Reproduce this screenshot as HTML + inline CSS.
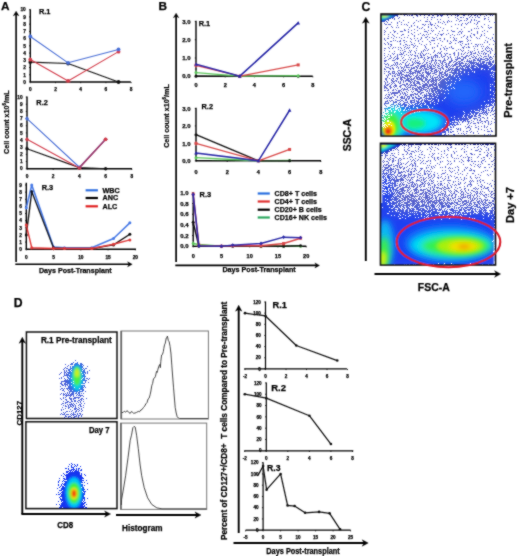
<!DOCTYPE html>
<html><head><meta charset="utf-8"><style>
html,body{margin:0;padding:0;background:#fff;width:520px;height:556px;overflow:hidden}
svg{display:block}
text{font-family:"Liberation Sans", sans-serif; stroke:#000; stroke-width:0.25px; paint-order:stroke}
</style></head><body>
<svg width="520" height="556" viewBox="0 0 520 556" font-family='"Liberation Sans", sans-serif'>
<rect width="520" height="556" fill="#fff"/>
<defs><filter id="gsoft" filterUnits="userSpaceOnUse" x="0" y="0" width="520" height="556"><feConvolveMatrix order="3" kernelMatrix="1 2 1 2 14 2 1 2 1" divisor="26" edgeMode="duplicate"/></filter></defs><g filter="url(#gsoft)">
<text x="1.00" y="9.60" font-size="11.8" font-weight="bold" text-anchor="start" fill="#000" stroke="#000" stroke-width="0.35">A</text>
<line x1="16.10" y1="13.96" x2="16.10" y2="262.00" stroke="#000" stroke-width="1.6" />
<path d="M16.10,11.20 L18.90,15.80 L16.10,14.42 L13.30,15.80 Z" fill="#000" stroke="#000" stroke-width="0.4" stroke-linejoin="round"/>
<line x1="15.30" y1="264.30" x2="129.44" y2="264.30" stroke="#000" stroke-width="1.6" />
<path d="M132.20,264.30 L127.60,266.80 L128.98,264.30 L127.60,261.80 Z" fill="#000" stroke="#000" stroke-width="0.4" stroke-linejoin="round"/>
<text x="9.10" y="122.10" font-size="8.0" font-weight="bold" text-anchor="middle" fill="#000" textLength="63.6" lengthAdjust="spacingAndGlyphs" transform="rotate(-90 9.10 122.10)" >Cell count x10<tspan font-size="5" dy="-2.8">6</tspan><tspan dy="2.8">/mL</tspan></text>
<text x="75.30" y="272.60" font-size="7.2" font-weight="bold" text-anchor="middle" fill="#000" textLength="72.7" lengthAdjust="spacingAndGlyphs" >Days Post-Transplant</text>
<line x1="30.30" y1="9.30" x2="30.30" y2="82.00" stroke="#000" stroke-width="1.4" />
<line x1="30.30" y1="82.00" x2="130.80" y2="82.00" stroke="#000" stroke-width="1.4" />
<line x1="29.10" y1="82.00" x2="30.30" y2="82.00" stroke="#000" stroke-width="0.8" />
<line x1="29.10" y1="74.77" x2="30.30" y2="74.77" stroke="#000" stroke-width="0.8" />
<line x1="29.10" y1="67.54" x2="30.30" y2="67.54" stroke="#000" stroke-width="0.8" />
<line x1="29.10" y1="60.31" x2="30.30" y2="60.31" stroke="#000" stroke-width="0.8" />
<line x1="29.10" y1="53.08" x2="30.30" y2="53.08" stroke="#000" stroke-width="0.8" />
<line x1="29.10" y1="45.85" x2="30.30" y2="45.85" stroke="#000" stroke-width="0.8" />
<line x1="29.10" y1="38.62" x2="30.30" y2="38.62" stroke="#000" stroke-width="0.8" />
<line x1="29.10" y1="31.39" x2="30.30" y2="31.39" stroke="#000" stroke-width="0.8" />
<line x1="29.10" y1="24.16" x2="30.30" y2="24.16" stroke="#000" stroke-width="0.8" />
<line x1="29.10" y1="16.93" x2="30.30" y2="16.93" stroke="#000" stroke-width="0.8" />
<line x1="29.10" y1="9.70" x2="30.30" y2="9.70" stroke="#000" stroke-width="0.8" />
<text x="25.80" y="83.73" font-size="4.8" font-weight="bold" text-anchor="end" fill="#000" >0</text>
<text x="25.80" y="76.50" font-size="4.8" font-weight="bold" text-anchor="end" fill="#000" >1</text>
<text x="25.80" y="69.27" font-size="4.8" font-weight="bold" text-anchor="end" fill="#000" >2</text>
<text x="25.80" y="62.04" font-size="4.8" font-weight="bold" text-anchor="end" fill="#000" >3</text>
<text x="25.80" y="54.81" font-size="4.8" font-weight="bold" text-anchor="end" fill="#000" >4</text>
<text x="25.80" y="47.58" font-size="4.8" font-weight="bold" text-anchor="end" fill="#000" >5</text>
<text x="25.80" y="40.35" font-size="4.8" font-weight="bold" text-anchor="end" fill="#000" >6</text>
<text x="25.80" y="33.12" font-size="4.8" font-weight="bold" text-anchor="end" fill="#000" >7</text>
<text x="25.80" y="25.89" font-size="4.8" font-weight="bold" text-anchor="end" fill="#000" >8</text>
<text x="25.80" y="18.66" font-size="4.8" font-weight="bold" text-anchor="end" fill="#000" >9</text>
<text x="25.80" y="11.43" font-size="4.8" font-weight="bold" text-anchor="end" fill="#000" >10</text>
<line x1="30.30" y1="82.00" x2="30.30" y2="83.20" stroke="#000" stroke-width="0.8" />
<line x1="55.50" y1="82.00" x2="55.50" y2="83.20" stroke="#000" stroke-width="0.8" />
<line x1="80.70" y1="82.00" x2="80.70" y2="83.20" stroke="#000" stroke-width="0.8" />
<line x1="105.90" y1="82.00" x2="105.90" y2="83.20" stroke="#000" stroke-width="0.8" />
<line x1="131.10" y1="82.00" x2="131.10" y2="83.20" stroke="#000" stroke-width="0.8" />
<text x="30.30" y="90.53" font-size="4.8" font-weight="bold" text-anchor="middle" fill="#000" >0</text>
<text x="55.50" y="90.53" font-size="4.8" font-weight="bold" text-anchor="middle" fill="#000" >2</text>
<text x="80.70" y="90.53" font-size="4.8" font-weight="bold" text-anchor="middle" fill="#000" >4</text>
<text x="105.90" y="90.53" font-size="4.8" font-weight="bold" text-anchor="middle" fill="#000" >6</text>
<text x="131.10" y="90.53" font-size="4.8" font-weight="bold" text-anchor="middle" fill="#000" >8</text>
<text x="38.90" y="14.30" font-size="7.4" font-weight="bold" text-anchor="start" fill="#000" >R.1</text>
<polyline points="30.30,62.12 68.10,63.56 118.50,82.00" fill="none" stroke="#111" stroke-width="1.1" stroke-linejoin="round" />
<circle cx="30.30" cy="62.12" r="1.9" fill="#111"/>
<circle cx="68.10" cy="63.56" r="1.9" fill="#111"/>
<circle cx="118.50" cy="82.00" r="1.9" fill="#111"/>
<polyline points="30.30,59.59 68.10,80.92 118.50,51.63" fill="none" stroke="#d23c4a" stroke-width="1.1" stroke-linejoin="round" />
<circle cx="30.30" cy="59.59" r="1.9" fill="#d23c4a"/>
<circle cx="68.10" cy="80.92" r="1.9" fill="#d23c4a"/>
<circle cx="118.50" cy="51.63" r="1.9" fill="#d23c4a"/>
<polyline points="30.30,36.45 68.10,62.84 118.50,49.47" fill="none" stroke="#4a6fd6" stroke-width="1.1" stroke-linejoin="round" />
<circle cx="30.30" cy="36.45" r="1.9" fill="#4a6fd6"/>
<circle cx="68.10" cy="62.84" r="1.9" fill="#4a6fd6"/>
<circle cx="118.50" cy="49.47" r="1.9" fill="#4a6fd6"/>
<line x1="27.00" y1="96.50" x2="27.00" y2="168.70" stroke="#000" stroke-width="1.4" />
<line x1="27.00" y1="168.70" x2="132.00" y2="168.70" stroke="#000" stroke-width="1.4" />
<line x1="25.80" y1="168.70" x2="27.00" y2="168.70" stroke="#000" stroke-width="0.8" />
<line x1="25.80" y1="161.54" x2="27.00" y2="161.54" stroke="#000" stroke-width="0.8" />
<line x1="25.80" y1="154.38" x2="27.00" y2="154.38" stroke="#000" stroke-width="0.8" />
<line x1="25.80" y1="147.22" x2="27.00" y2="147.22" stroke="#000" stroke-width="0.8" />
<line x1="25.80" y1="140.06" x2="27.00" y2="140.06" stroke="#000" stroke-width="0.8" />
<line x1="25.80" y1="132.90" x2="27.00" y2="132.90" stroke="#000" stroke-width="0.8" />
<line x1="25.80" y1="125.74" x2="27.00" y2="125.74" stroke="#000" stroke-width="0.8" />
<line x1="25.80" y1="118.58" x2="27.00" y2="118.58" stroke="#000" stroke-width="0.8" />
<line x1="25.80" y1="111.42" x2="27.00" y2="111.42" stroke="#000" stroke-width="0.8" />
<line x1="25.80" y1="104.26" x2="27.00" y2="104.26" stroke="#000" stroke-width="0.8" />
<line x1="25.80" y1="97.10" x2="27.00" y2="97.10" stroke="#000" stroke-width="0.8" />
<text x="22.60" y="170.43" font-size="4.8" font-weight="bold" text-anchor="end" fill="#000" >0</text>
<text x="22.60" y="163.27" font-size="4.8" font-weight="bold" text-anchor="end" fill="#000" >1</text>
<text x="22.60" y="156.11" font-size="4.8" font-weight="bold" text-anchor="end" fill="#000" >2</text>
<text x="22.60" y="148.95" font-size="4.8" font-weight="bold" text-anchor="end" fill="#000" >3</text>
<text x="22.60" y="141.79" font-size="4.8" font-weight="bold" text-anchor="end" fill="#000" >4</text>
<text x="22.60" y="134.63" font-size="4.8" font-weight="bold" text-anchor="end" fill="#000" >5</text>
<text x="22.60" y="127.47" font-size="4.8" font-weight="bold" text-anchor="end" fill="#000" >6</text>
<text x="22.60" y="120.31" font-size="4.8" font-weight="bold" text-anchor="end" fill="#000" >7</text>
<text x="22.60" y="113.15" font-size="4.8" font-weight="bold" text-anchor="end" fill="#000" >8</text>
<text x="22.60" y="105.99" font-size="4.8" font-weight="bold" text-anchor="end" fill="#000" >9</text>
<text x="22.60" y="98.83" font-size="4.8" font-weight="bold" text-anchor="end" fill="#000" >10</text>
<line x1="27.00" y1="168.70" x2="27.00" y2="169.90" stroke="#000" stroke-width="0.8" />
<line x1="53.20" y1="168.70" x2="53.20" y2="169.90" stroke="#000" stroke-width="0.8" />
<line x1="79.40" y1="168.70" x2="79.40" y2="169.90" stroke="#000" stroke-width="0.8" />
<line x1="105.60" y1="168.70" x2="105.60" y2="169.90" stroke="#000" stroke-width="0.8" />
<line x1="131.80" y1="168.70" x2="131.80" y2="169.90" stroke="#000" stroke-width="0.8" />
<text x="27.00" y="178.13" font-size="4.8" font-weight="bold" text-anchor="middle" fill="#000" >0</text>
<text x="53.20" y="178.13" font-size="4.8" font-weight="bold" text-anchor="middle" fill="#000" >2</text>
<text x="79.40" y="178.13" font-size="4.8" font-weight="bold" text-anchor="middle" fill="#000" >4</text>
<text x="105.60" y="178.13" font-size="4.8" font-weight="bold" text-anchor="middle" fill="#000" >6</text>
<text x="131.80" y="178.13" font-size="4.8" font-weight="bold" text-anchor="middle" fill="#000" >8</text>
<text x="36.30" y="105.20" font-size="7.4" font-weight="bold" text-anchor="start" fill="#000" >R.2</text>
<polyline points="27.00,148.65 79.40,167.63 105.60,168.70" fill="none" stroke="#111" stroke-width="1.1" stroke-linejoin="round" />
<circle cx="27.00" cy="148.65" r="1.7" fill="#111"/>
<circle cx="79.40" cy="167.63" r="1.7" fill="#111"/>
<circle cx="105.60" cy="168.70" r="1.7" fill="#111"/>
<polyline points="27.00,118.58 79.40,167.27 105.60,139.34" fill="none" stroke="#4a6fd6" stroke-width="1.1" stroke-linejoin="round" />
<circle cx="27.00" cy="118.58" r="1.7" fill="#4a6fd6"/>
<circle cx="79.40" cy="167.27" r="1.7" fill="#4a6fd6"/>
<circle cx="105.60" cy="139.34" r="1.7" fill="#4a6fd6"/>
<polyline points="27.00,139.34 79.40,167.98 105.60,139.34" fill="none" stroke="#d23c4a" stroke-width="1.1" stroke-linejoin="round" />
<circle cx="27.00" cy="139.34" r="1.7" fill="#d23c4a"/>
<circle cx="79.40" cy="167.98" r="1.7" fill="#d23c4a"/>
<circle cx="105.60" cy="139.34" r="1.7" fill="#d23c4a"/>
<polyline points="79.40,167.63 105.60,139.34" fill="none" stroke="#9a3c70" stroke-width="1.5" stroke-linejoin="round" />
<circle cx="105.60" cy="139.34" r="1.8" fill="#d23c4a"/>
<line x1="26.30" y1="182.80" x2="26.30" y2="249.20" stroke="#000" stroke-width="1.4" />
<line x1="26.30" y1="249.20" x2="136.00" y2="249.20" stroke="#000" stroke-width="1.4" />
<line x1="25.10" y1="249.20" x2="26.30" y2="249.20" stroke="#000" stroke-width="0.8" />
<line x1="25.10" y1="242.07" x2="26.30" y2="242.07" stroke="#000" stroke-width="0.8" />
<line x1="25.10" y1="234.93" x2="26.30" y2="234.93" stroke="#000" stroke-width="0.8" />
<line x1="25.10" y1="227.80" x2="26.30" y2="227.80" stroke="#000" stroke-width="0.8" />
<line x1="25.10" y1="220.67" x2="26.30" y2="220.67" stroke="#000" stroke-width="0.8" />
<line x1="25.10" y1="213.53" x2="26.30" y2="213.53" stroke="#000" stroke-width="0.8" />
<line x1="25.10" y1="206.40" x2="26.30" y2="206.40" stroke="#000" stroke-width="0.8" />
<line x1="25.10" y1="199.27" x2="26.30" y2="199.27" stroke="#000" stroke-width="0.8" />
<line x1="25.10" y1="192.13" x2="26.30" y2="192.13" stroke="#000" stroke-width="0.8" />
<line x1="25.10" y1="185.00" x2="26.30" y2="185.00" stroke="#000" stroke-width="0.8" />
<text x="22.00" y="250.93" font-size="4.8" font-weight="bold" text-anchor="end" fill="#000" >0</text>
<text x="22.00" y="243.79" font-size="4.8" font-weight="bold" text-anchor="end" fill="#000" >1</text>
<text x="22.00" y="236.66" font-size="4.8" font-weight="bold" text-anchor="end" fill="#000" >2</text>
<text x="22.00" y="229.53" font-size="4.8" font-weight="bold" text-anchor="end" fill="#000" >3</text>
<text x="22.00" y="222.39" font-size="4.8" font-weight="bold" text-anchor="end" fill="#000" >4</text>
<text x="22.00" y="215.26" font-size="4.8" font-weight="bold" text-anchor="end" fill="#000" >5</text>
<text x="22.00" y="208.13" font-size="4.8" font-weight="bold" text-anchor="end" fill="#000" >6</text>
<text x="22.00" y="200.99" font-size="4.8" font-weight="bold" text-anchor="end" fill="#000" >7</text>
<text x="22.00" y="193.86" font-size="4.8" font-weight="bold" text-anchor="end" fill="#000" >8</text>
<text x="22.00" y="186.73" font-size="4.8" font-weight="bold" text-anchor="end" fill="#000" >9</text>
<line x1="26.30" y1="249.20" x2="26.30" y2="250.40" stroke="#000" stroke-width="0.8" />
<line x1="53.55" y1="249.20" x2="53.55" y2="250.40" stroke="#000" stroke-width="0.8" />
<line x1="80.80" y1="249.20" x2="80.80" y2="250.40" stroke="#000" stroke-width="0.8" />
<line x1="108.05" y1="249.20" x2="108.05" y2="250.40" stroke="#000" stroke-width="0.8" />
<line x1="135.30" y1="249.20" x2="135.30" y2="250.40" stroke="#000" stroke-width="0.8" />
<text x="26.30" y="258.53" font-size="4.8" font-weight="bold" text-anchor="middle" fill="#000" >0</text>
<text x="53.55" y="258.53" font-size="4.8" font-weight="bold" text-anchor="middle" fill="#000" >5</text>
<text x="80.80" y="258.53" font-size="4.8" font-weight="bold" text-anchor="middle" fill="#000" >10</text>
<text x="108.05" y="258.53" font-size="4.8" font-weight="bold" text-anchor="middle" fill="#000" >15</text>
<text x="135.30" y="258.53" font-size="4.8" font-weight="bold" text-anchor="middle" fill="#000" >20</text>
<text x="41.70" y="189.70" font-size="7.4" font-weight="bold" text-anchor="start" fill="#000" >R.3</text>
<polyline points="26.30,207.83 31.75,185.00 53.55,247.06 64.45,247.77 91.70,247.77 113.50,238.50 129.85,222.81" fill="none" stroke="#4a7be6" stroke-width="1.6" stroke-linejoin="round" />
<circle cx="26.30" cy="207.83" r="1.5" fill="#4a7be6"/>
<circle cx="31.75" cy="185.00" r="1.5" fill="#4a7be6"/>
<circle cx="53.55" cy="247.06" r="1.5" fill="#4a7be6"/>
<circle cx="64.45" cy="247.77" r="1.5" fill="#4a7be6"/>
<circle cx="91.70" cy="247.77" r="1.5" fill="#4a7be6"/>
<circle cx="113.50" cy="238.50" r="1.5" fill="#4a7be6"/>
<circle cx="129.85" cy="222.81" r="1.5" fill="#4a7be6"/>
<polyline points="26.30,234.93 31.75,191.42 53.55,247.77 64.45,248.49 91.70,248.49 113.50,244.92 129.85,234.22" fill="none" stroke="#111" stroke-width="1.4" stroke-linejoin="round" />
<circle cx="26.30" cy="234.93" r="1.5" fill="#111"/>
<circle cx="31.75" cy="191.42" r="1.5" fill="#111"/>
<circle cx="53.55" cy="247.77" r="1.5" fill="#111"/>
<circle cx="64.45" cy="248.49" r="1.5" fill="#111"/>
<circle cx="91.70" cy="248.49" r="1.5" fill="#111"/>
<circle cx="113.50" cy="244.92" r="1.5" fill="#111"/>
<circle cx="129.85" cy="234.22" r="1.5" fill="#111"/>
<polyline points="26.30,224.95 31.75,247.77 53.55,248.49 64.45,248.49 91.70,248.49 113.50,244.21 129.85,239.93" fill="none" stroke="#e03a3a" stroke-width="1.4" stroke-linejoin="round" />
<circle cx="26.30" cy="224.95" r="1.5" fill="#e03a3a"/>
<circle cx="31.75" cy="247.77" r="1.5" fill="#e03a3a"/>
<circle cx="53.55" cy="248.49" r="1.5" fill="#e03a3a"/>
<circle cx="64.45" cy="248.49" r="1.5" fill="#e03a3a"/>
<circle cx="91.70" cy="248.49" r="1.5" fill="#e03a3a"/>
<circle cx="113.50" cy="244.21" r="1.5" fill="#e03a3a"/>
<circle cx="129.85" cy="239.93" r="1.5" fill="#e03a3a"/>
<line x1="85.60" y1="190.30" x2="97.90" y2="190.30" stroke="#2f6fe0" stroke-width="2.2" />
<text x="102.50" y="192.60" font-size="7.2" font-weight="bold" text-anchor="start" fill="#000" >WBC</text>
<line x1="85.60" y1="198.00" x2="97.90" y2="198.00" stroke="#000" stroke-width="2.2" />
<text x="102.50" y="200.30" font-size="7.2" font-weight="bold" text-anchor="start" fill="#000" >ANC</text>
<line x1="85.60" y1="206.30" x2="97.90" y2="206.30" stroke="#e02020" stroke-width="2.2" />
<text x="102.50" y="208.60" font-size="7.2" font-weight="bold" text-anchor="start" fill="#000" >ALC</text>
<text x="158.60" y="9.60" font-size="11.8" font-weight="bold" text-anchor="start" fill="#000" stroke="#000" stroke-width="0.35">B</text>
<line x1="176.10" y1="15.90" x2="176.10" y2="262.00" stroke="#000" stroke-width="1.7" />
<path d="M176.10,13.20 L178.80,17.70 L176.10,16.35 L173.40,17.70 Z" fill="#000" stroke="#000" stroke-width="0.4" stroke-linejoin="round"/>
<line x1="175.30" y1="265.40" x2="316.74" y2="265.40" stroke="#000" stroke-width="1.7" />
<path d="M319.50,265.40 L314.90,267.90 L316.28,265.40 L314.90,262.90 Z" fill="#000" stroke="#000" stroke-width="0.4" stroke-linejoin="round"/>
<text x="168.90" y="116.00" font-size="8.0" font-weight="bold" text-anchor="middle" fill="#000" textLength="63.6" lengthAdjust="spacingAndGlyphs" transform="rotate(-90 168.90 116.00)" >Cell count x10<tspan font-size="5" dy="-2.8">6</tspan><tspan dy="2.8">/mL</tspan></text>
<text x="259.10" y="272.30" font-size="7.2" font-weight="bold" text-anchor="middle" fill="#000" textLength="73.3" lengthAdjust="spacingAndGlyphs" >Days Post-Transplant</text>
<line x1="196.00" y1="20.80" x2="196.00" y2="76.20" stroke="#000" stroke-width="1.4" />
<line x1="196.00" y1="76.20" x2="312.70" y2="76.20" stroke="#000" stroke-width="1.4" />
<line x1="194.80" y1="76.20" x2="196.00" y2="76.20" stroke="#000" stroke-width="0.8" />
<line x1="194.80" y1="57.97" x2="196.00" y2="57.97" stroke="#000" stroke-width="0.8" />
<line x1="194.80" y1="39.73" x2="196.00" y2="39.73" stroke="#000" stroke-width="0.8" />
<line x1="194.80" y1="21.50" x2="196.00" y2="21.50" stroke="#000" stroke-width="0.8" />
<text x="190.50" y="78.36" font-size="6.0" font-weight="bold" text-anchor="end" fill="#000" >0.0</text>
<text x="190.50" y="60.13" font-size="6.0" font-weight="bold" text-anchor="end" fill="#000" >1.0</text>
<text x="190.50" y="41.89" font-size="6.0" font-weight="bold" text-anchor="end" fill="#000" >2.0</text>
<text x="190.50" y="23.66" font-size="6.0" font-weight="bold" text-anchor="end" fill="#000" >3.0</text>
<line x1="196.00" y1="76.20" x2="196.00" y2="77.40" stroke="#000" stroke-width="0.8" />
<line x1="225.20" y1="76.20" x2="225.20" y2="77.40" stroke="#000" stroke-width="0.8" />
<line x1="254.40" y1="76.20" x2="254.40" y2="77.40" stroke="#000" stroke-width="0.8" />
<line x1="283.60" y1="76.20" x2="283.60" y2="77.40" stroke="#000" stroke-width="0.8" />
<line x1="312.80" y1="76.20" x2="312.80" y2="77.40" stroke="#000" stroke-width="0.8" />
<text x="196.00" y="87.32" font-size="5.6" font-weight="bold" text-anchor="middle" fill="#000" >0</text>
<text x="225.20" y="87.32" font-size="5.6" font-weight="bold" text-anchor="middle" fill="#000" >2</text>
<text x="254.40" y="87.32" font-size="5.6" font-weight="bold" text-anchor="middle" fill="#000" >4</text>
<text x="283.60" y="87.32" font-size="5.6" font-weight="bold" text-anchor="middle" fill="#000" >6</text>
<text x="312.80" y="87.32" font-size="5.6" font-weight="bold" text-anchor="middle" fill="#000" >8</text>
<text x="198.70" y="26.40" font-size="7.4" font-weight="bold" text-anchor="start" fill="#000" >R.1</text>
<polyline points="196.00,76.20 239.80,76.20 298.20,76.20" fill="none" stroke="#111" stroke-width="1.3" stroke-linejoin="round" />
<circle cx="196.00" cy="76.20" r="1.5" fill="#111"/>
<circle cx="239.80" cy="76.20" r="1.5" fill="#111"/>
<circle cx="298.20" cy="76.20" r="1.5" fill="#111"/>
<polyline points="196.00,72.55 239.80,76.20 298.20,75.65" fill="none" stroke="#5cc65c" stroke-width="1.3" stroke-linejoin="round" />
<circle cx="196.00" cy="72.55" r="1.5" fill="#5cc65c"/>
<circle cx="239.80" cy="76.20" r="1.5" fill="#5cc65c"/>
<circle cx="298.20" cy="75.65" r="1.5" fill="#5cc65c"/>
<polyline points="196.00,65.26 239.80,76.20 298.20,64.90" fill="none" stroke="#d84848" stroke-width="1.3" stroke-linejoin="round" />
<rect x="194.50" y="63.76" width="3.0" height="3.0" fill="#d84848"/>
<rect x="238.30" y="74.70" width="3.0" height="3.0" fill="#d84848"/>
<rect x="296.70" y="63.40" width="3.0" height="3.0" fill="#d84848"/>
<polyline points="196.00,64.35 239.80,76.20 298.20,22.96" fill="none" stroke="#2626a6" stroke-width="1.6" stroke-linejoin="round" />
<path d="M196.00,62.40 L197.80,65.85 L194.20,65.85Z" fill="#2626a6"/>
<path d="M239.80,74.25 L241.60,77.70 L238.00,77.70Z" fill="#2626a6"/>
<path d="M298.20,21.01 L300.00,24.46 L296.40,24.46Z" fill="#2626a6"/>
<line x1="196.00" y1="107.80" x2="196.00" y2="160.80" stroke="#000" stroke-width="1.4" />
<line x1="196.00" y1="160.80" x2="321.00" y2="160.80" stroke="#000" stroke-width="1.4" />
<line x1="194.80" y1="160.80" x2="196.00" y2="160.80" stroke="#000" stroke-width="0.8" />
<line x1="194.80" y1="143.37" x2="196.00" y2="143.37" stroke="#000" stroke-width="0.8" />
<line x1="194.80" y1="125.93" x2="196.00" y2="125.93" stroke="#000" stroke-width="0.8" />
<line x1="194.80" y1="108.50" x2="196.00" y2="108.50" stroke="#000" stroke-width="0.8" />
<text x="190.50" y="162.96" font-size="6.0" font-weight="bold" text-anchor="end" fill="#000" >0.0</text>
<text x="190.50" y="145.53" font-size="6.0" font-weight="bold" text-anchor="end" fill="#000" >1.0</text>
<text x="190.50" y="128.09" font-size="6.0" font-weight="bold" text-anchor="end" fill="#000" >2.0</text>
<text x="190.50" y="110.66" font-size="6.0" font-weight="bold" text-anchor="end" fill="#000" >3.0</text>
<line x1="196.00" y1="160.80" x2="196.00" y2="162.00" stroke="#000" stroke-width="0.8" />
<line x1="227.20" y1="160.80" x2="227.20" y2="162.00" stroke="#000" stroke-width="0.8" />
<line x1="258.40" y1="160.80" x2="258.40" y2="162.00" stroke="#000" stroke-width="0.8" />
<line x1="289.60" y1="160.80" x2="289.60" y2="162.00" stroke="#000" stroke-width="0.8" />
<line x1="320.80" y1="160.80" x2="320.80" y2="162.00" stroke="#000" stroke-width="0.8" />
<text x="196.00" y="173.52" font-size="5.6" font-weight="bold" text-anchor="middle" fill="#000" >0</text>
<text x="227.20" y="173.52" font-size="5.6" font-weight="bold" text-anchor="middle" fill="#000" >2</text>
<text x="258.40" y="173.52" font-size="5.6" font-weight="bold" text-anchor="middle" fill="#000" >4</text>
<text x="289.60" y="173.52" font-size="5.6" font-weight="bold" text-anchor="middle" fill="#000" >6</text>
<text x="320.80" y="173.52" font-size="5.6" font-weight="bold" text-anchor="middle" fill="#000" >8</text>
<text x="201.50" y="108.80" font-size="7.4" font-weight="bold" text-anchor="start" fill="#000" >R.2</text>
<polyline points="196.00,157.66 258.40,160.80 289.60,160.45" fill="none" stroke="#5cc65c" stroke-width="1.3" stroke-linejoin="round" />
<circle cx="196.00" cy="157.66" r="1.5" fill="#5cc65c"/>
<circle cx="258.40" cy="160.80" r="1.5" fill="#5cc65c"/>
<circle cx="289.60" cy="160.45" r="1.5" fill="#5cc65c"/>
<polyline points="196.00,134.65 258.40,160.80 289.60,160.80" fill="none" stroke="#111" stroke-width="1.3" stroke-linejoin="round" />
<circle cx="196.00" cy="134.65" r="1.5" fill="#111"/>
<circle cx="258.40" cy="160.80" r="1.5" fill="#111"/>
<circle cx="289.60" cy="160.80" r="1.5" fill="#111"/>
<polyline points="196.00,143.37 258.40,160.80 289.60,149.47" fill="none" stroke="#d84848" stroke-width="1.3" stroke-linejoin="round" />
<rect x="194.50" y="141.87" width="3.0" height="3.0" fill="#d84848"/>
<rect x="256.90" y="159.30" width="3.0" height="3.0" fill="#d84848"/>
<rect x="288.10" y="147.97" width="3.0" height="3.0" fill="#d84848"/>
<polyline points="196.00,152.96 258.40,160.80 289.60,110.24" fill="none" stroke="#2626a6" stroke-width="1.5" stroke-linejoin="round" />
<path d="M196.00,151.01 L197.80,154.46 L194.20,154.46Z" fill="#2626a6"/>
<path d="M258.40,158.85 L260.20,162.30 L256.60,162.30Z" fill="#2626a6"/>
<path d="M289.60,108.29 L291.40,111.74 L287.80,111.74Z" fill="#2626a6"/>
<line x1="193.20" y1="192.20" x2="193.20" y2="246.20" stroke="#000" stroke-width="1.4" />
<line x1="193.20" y1="246.20" x2="306.30" y2="246.20" stroke="#000" stroke-width="1.4" />
<line x1="192.00" y1="246.20" x2="193.20" y2="246.20" stroke="#000" stroke-width="0.8" />
<line x1="192.00" y1="235.54" x2="193.20" y2="235.54" stroke="#000" stroke-width="0.8" />
<line x1="192.00" y1="224.88" x2="193.20" y2="224.88" stroke="#000" stroke-width="0.8" />
<line x1="192.00" y1="214.22" x2="193.20" y2="214.22" stroke="#000" stroke-width="0.8" />
<line x1="192.00" y1="203.56" x2="193.20" y2="203.56" stroke="#000" stroke-width="0.8" />
<line x1="192.00" y1="192.90" x2="193.20" y2="192.90" stroke="#000" stroke-width="0.8" />
<text x="188.50" y="248.36" font-size="6.0" font-weight="bold" text-anchor="end" fill="#000" >0.0</text>
<text x="188.50" y="237.70" font-size="6.0" font-weight="bold" text-anchor="end" fill="#000" >0.2</text>
<text x="188.50" y="227.04" font-size="6.0" font-weight="bold" text-anchor="end" fill="#000" >0.4</text>
<text x="188.50" y="216.38" font-size="6.0" font-weight="bold" text-anchor="end" fill="#000" >0.6</text>
<text x="188.50" y="205.72" font-size="6.0" font-weight="bold" text-anchor="end" fill="#000" >0.8</text>
<text x="188.50" y="195.06" font-size="6.0" font-weight="bold" text-anchor="end" fill="#000" >1.0</text>
<line x1="193.20" y1="246.20" x2="193.20" y2="247.40" stroke="#000" stroke-width="0.8" />
<line x1="221.45" y1="246.20" x2="221.45" y2="247.40" stroke="#000" stroke-width="0.8" />
<line x1="249.70" y1="246.20" x2="249.70" y2="247.40" stroke="#000" stroke-width="0.8" />
<line x1="277.95" y1="246.20" x2="277.95" y2="247.40" stroke="#000" stroke-width="0.8" />
<line x1="306.20" y1="246.20" x2="306.20" y2="247.40" stroke="#000" stroke-width="0.8" />
<text x="193.20" y="258.02" font-size="5.6" font-weight="bold" text-anchor="middle" fill="#000" >0</text>
<text x="221.45" y="258.02" font-size="5.6" font-weight="bold" text-anchor="middle" fill="#000" >5</text>
<text x="249.70" y="258.02" font-size="5.6" font-weight="bold" text-anchor="middle" fill="#000" >10</text>
<text x="277.95" y="258.02" font-size="5.6" font-weight="bold" text-anchor="middle" fill="#000" >15</text>
<text x="306.20" y="258.02" font-size="5.6" font-weight="bold" text-anchor="middle" fill="#000" >20</text>
<text x="199.60" y="196.80" font-size="7.4" font-weight="bold" text-anchor="start" fill="#000" >R.3</text>
<polyline points="193.20,243.53 198.85,244.60 221.45,246.20 232.75,245.67 261.00,246.20 283.60,246.20 300.55,246.20" fill="none" stroke="#5cc65c" stroke-width="1.5" stroke-linejoin="round" />
<circle cx="193.20" cy="243.53" r="1.5" fill="#5cc65c"/>
<circle cx="198.85" cy="244.60" r="1.5" fill="#5cc65c"/>
<circle cx="221.45" cy="246.20" r="1.5" fill="#5cc65c"/>
<circle cx="232.75" cy="245.67" r="1.5" fill="#5cc65c"/>
<circle cx="261.00" cy="246.20" r="1.5" fill="#5cc65c"/>
<circle cx="283.60" cy="246.20" r="1.5" fill="#5cc65c"/>
<circle cx="300.55" cy="246.20" r="1.5" fill="#5cc65c"/>
<polyline points="193.20,222.22 198.85,246.20 221.45,246.20 232.75,246.20 261.00,246.20 283.60,246.20 300.55,245.67" fill="none" stroke="#111" stroke-width="1.5" stroke-linejoin="round" />
<circle cx="193.20" cy="222.22" r="1.5" fill="#111"/>
<circle cx="198.85" cy="246.20" r="1.5" fill="#111"/>
<circle cx="221.45" cy="246.20" r="1.5" fill="#111"/>
<circle cx="232.75" cy="246.20" r="1.5" fill="#111"/>
<circle cx="261.00" cy="246.20" r="1.5" fill="#111"/>
<circle cx="283.60" cy="246.20" r="1.5" fill="#111"/>
<circle cx="300.55" cy="245.67" r="1.5" fill="#111"/>
<polyline points="193.20,193.97 198.85,245.13 221.45,246.20 232.75,245.67 261.00,245.67 283.60,243.53 300.55,238.20" fill="none" stroke="#d84848" stroke-width="1.5" stroke-linejoin="round" />
<rect x="191.70" y="192.47" width="3.0" height="3.0" fill="#d84848"/>
<rect x="197.35" y="243.63" width="3.0" height="3.0" fill="#d84848"/>
<rect x="219.95" y="244.70" width="3.0" height="3.0" fill="#d84848"/>
<rect x="231.25" y="244.17" width="3.0" height="3.0" fill="#d84848"/>
<rect x="259.50" y="244.17" width="3.0" height="3.0" fill="#d84848"/>
<rect x="282.10" y="242.03" width="3.0" height="3.0" fill="#d84848"/>
<rect x="299.05" y="236.70" width="3.0" height="3.0" fill="#d84848"/>
<polyline points="193.20,194.50 198.85,245.67 221.45,246.20 232.75,245.13 261.00,243.53 283.60,237.14 300.55,237.67" fill="none" stroke="#2626a6" stroke-width="1.5" stroke-linejoin="round" />
<path d="M193.20,192.55 L195.00,194.50 L193.20,196.45 L191.40,194.50Z" fill="#2626a6"/>
<path d="M198.85,243.72 L200.65,245.67 L198.85,247.62 L197.05,245.67Z" fill="#2626a6"/>
<path d="M221.45,244.25 L223.25,246.20 L221.45,248.15 L219.65,246.20Z" fill="#2626a6"/>
<path d="M232.75,243.18 L234.55,245.13 L232.75,247.08 L230.95,245.13Z" fill="#2626a6"/>
<path d="M261.00,241.59 L262.80,243.53 L261.00,245.48 L259.20,243.53Z" fill="#2626a6"/>
<path d="M283.60,235.19 L285.40,237.14 L283.60,239.09 L281.80,237.14Z" fill="#2626a6"/>
<path d="M300.55,235.72 L302.35,237.67 L300.55,239.62 L298.75,237.67Z" fill="#2626a6"/>
<line x1="257.70" y1="193.50" x2="269.80" y2="193.50" stroke="#2a6ee0" stroke-width="2.2" />
<text x="274.60" y="195.90" font-size="7.1" font-weight="bold" text-anchor="start" fill="#000" >CD8+ T cells</text>
<line x1="257.70" y1="201.50" x2="269.80" y2="201.50" stroke="#e03030" stroke-width="2.2" />
<text x="274.60" y="203.90" font-size="7.1" font-weight="bold" text-anchor="start" fill="#000" >CD4+ T cells</text>
<line x1="257.70" y1="209.70" x2="269.80" y2="209.70" stroke="#000" stroke-width="2.2" />
<text x="274.60" y="212.10" font-size="7.1" font-weight="bold" text-anchor="start" fill="#000" >CD20+ B cells</text>
<line x1="257.70" y1="217.50" x2="269.80" y2="217.50" stroke="#2ea860" stroke-width="2.2" />
<text x="274.60" y="219.90" font-size="7.1" font-weight="bold" text-anchor="start" fill="#000" >CD16+ NK cells</text>
<text x="361.40" y="10.60" font-size="12.2" font-weight="bold" text-anchor="start" fill="#000" stroke="#000" stroke-width="0.35">C</text>
<line x1="365.80" y1="20.80" x2="365.80" y2="261.00" stroke="#000" stroke-width="1.9" />
<path d="M365.80,17.20 L369.20,23.20 L365.80,21.40 L362.40,23.20 Z" fill="#000" stroke="#000" stroke-width="0.4" stroke-linejoin="round"/>
<line x1="374.50" y1="274.00" x2="497.00" y2="274.00" stroke="#000" stroke-width="1.9" />
<path d="M500.60,274.00 L494.60,277.30 L496.40,274.00 L494.60,270.70 Z" fill="#000" stroke="#000" stroke-width="0.4" stroke-linejoin="round"/>
<text x="351.50" y="135.10" font-size="10.4" font-weight="bold" text-anchor="middle" fill="#000" textLength="32.4" lengthAdjust="spacingAndGlyphs" transform="rotate(-90 351.50 135.10)" >SSC-A</text>
<text x="433.80" y="290.90" font-size="10.4" font-weight="bold" text-anchor="middle" fill="#000" textLength="31.9" lengthAdjust="spacingAndGlyphs" >FSC-A</text>
<text x="512.40" y="80.30" font-size="10.6" font-weight="bold" text-anchor="middle" fill="#000" textLength="74.7" lengthAdjust="spacingAndGlyphs" transform="rotate(-90 512.40 80.30)" >Pre-transplant</text>
<text x="513.90" y="205.00" font-size="10.6" font-weight="bold" text-anchor="middle" fill="#000" textLength="36" lengthAdjust="spacingAndGlyphs" transform="rotate(-90 513.90 205.00)" >Day +7</text>
<defs><filter id="b1" x="-50%" y="-50%" width="200%" height="200%"><feGaussianBlur stdDeviation="1"/></filter><filter id="b2" x="-50%" y="-50%" width="200%" height="200%"><feGaussianBlur stdDeviation="2"/></filter><filter id="b3" x="-50%" y="-50%" width="200%" height="200%"><feGaussianBlur stdDeviation="3"/></filter><filter id="b4" x="-50%" y="-50%" width="200%" height="200%"><feGaussianBlur stdDeviation="4"/></filter><filter id="b6" x="-50%" y="-50%" width="200%" height="200%"><feGaussianBlur stdDeviation="6"/></filter><filter id="b8" x="-50%" y="-50%" width="200%" height="200%"><feGaussianBlur stdDeviation="8"/></filter><filter id="b12" x="-50%" y="-50%" width="200%" height="200%"><feGaussianBlur stdDeviation="12"/></filter><filter id="thr1" x="0" y="0" width="520" height="556" filterUnits="userSpaceOnUse" color-interpolation-filters="sRGB">
<feTurbulence type="fractalNoise" baseFrequency="1.3" numOctaves="1" seed="3" result="n"/>
<feColorMatrix in="n" type="matrix" values="0 0 0 0 0  0 0 0 0 0  0 0 0 0 0  3.2 0 0 0 -1.1" result="na0"/>
<feComponentTransfer in="na0" result="na"><feFuncA type="linear" slope="0.94" intercept="0.03"/></feComponentTransfer>
<feComposite in="SourceAlpha" in2="na" operator="arithmetic" k1="0" k2="1" k3="1" k4="-1" result="sum"/>
<feComponentTransfer in="sum" result="m"><feFuncA type="linear" slope="255" intercept="0"/></feComponentTransfer>
<feFlood flood-color="#fff" result="w"/>
<feComposite in="w" in2="m" operator="in"/>
</filter><filter id="thr2" x="0" y="0" width="520" height="556" filterUnits="userSpaceOnUse" color-interpolation-filters="sRGB">
<feTurbulence type="fractalNoise" baseFrequency="1.3" numOctaves="1" seed="11" result="n"/>
<feColorMatrix in="n" type="matrix" values="0 0 0 0 0  0 0 0 0 0  0 0 0 0 0  3.2 0 0 0 -1.1" result="na0"/>
<feComponentTransfer in="na0" result="na"><feFuncA type="linear" slope="0.94" intercept="0.03"/></feComponentTransfer>
<feComposite in="SourceAlpha" in2="na" operator="arithmetic" k1="0" k2="1" k3="1" k4="-1" result="sum"/>
<feComponentTransfer in="sum" result="m"><feFuncA type="linear" slope="255" intercept="0"/></feComponentTransfer>
<feFlood flood-color="#fff" result="w"/>
<feComposite in="w" in2="m" operator="in"/>
</filter><filter id="soft" filterUnits="userSpaceOnUse" x="0" y="0" width="520" height="556"><feOffset dx="0" dy="0"/></filter>
<clipPath id="cc1"><rect x="381" y="14" width="115" height="122"/></clipPath>
<clipPath id="cc2"><rect x="380.5" y="143.3" width="115" height="121.7"/></clipPath>
<clipPath id="cd1"><rect x="26.4" y="332" width="90.6" height="86.5"/></clipPath>
<clipPath id="cd2"><rect x="25.9" y="421.8" width="91.1" height="86.8"/></clipPath>
<mask id="mc1" maskUnits="userSpaceOnUse" x="381" y="14" width="115" height="122">
<g filter="url(#thr1)">
<rect x="381" y="14" width="115" height="122" fill="#fff" fill-opacity="0.1"/>
<g filter="url(#b12)"><path d="M381,52 L420,46 L445,60 L425,105 L381,112 Z" fill="#fff" fill-opacity="0.22"/></g>
<g filter="url(#b8)"><path d="M381,66 L420,58 L445,85 L381,110 Z" fill="#fff" fill-opacity="0.25"/></g>
<g filter="url(#b12)"><ellipse cx="462" cy="88" rx="45" ry="34" fill="#fff" fill-opacity="0.45" transform="rotate(-20 462 88)"/></g>
<g filter="url(#b6)"><ellipse cx="464" cy="90" rx="30" ry="24" fill="#fff" fill-opacity="0.6" transform="rotate(-25 464 90)"/></g>
<g filter="url(#b4)"><path d="M386,112 L410,106 L430,102 L448,92 L460,74 L480,66 L496,66 L496,102 L470,114 L450,125 L440,137 L384,137 Z" fill="#fff"/></g>
<g filter="url(#b4)"><path d="M386,104 L425,98 L445,84 L470,66 L496,58 L496,80 L440,104 Z" fill="#fff" fill-opacity="0.35"/></g>
<rect x="381" y="128" width="60" height="9" fill="#fff"/>
<path d="M381,14 L400,14 L388,20 L381,22.5 Z" fill="#fff"/>
<rect x="381" y="14" width="115" height="1.5" fill="#fff" fill-opacity="0.7"/>
</g>
<rect x="381" y="22" width="3" height="84" fill="#000"/>
</mask><mask id="mc2" maskUnits="userSpaceOnUse" x="380.5" y="143.3" width="115" height="121.7">
<g filter="url(#thr2)">
<rect x="380.5" y="143.3" width="115" height="121.7" fill="#fff" fill-opacity="0.1"/>
<g filter="url(#b12)"><path d="M380,150 L415,158 L440,215 L380,215 Z" fill="#fff" fill-opacity="0.3"/></g>
<g filter="url(#b12)"><path d="M380,182 L496,186 L496,215 L380,215 Z" fill="#fff" fill-opacity="0.3"/></g>
<g filter="url(#b6)"><path d="M380,198 L496,200 L496,216 L380,216 Z" fill="#fff" fill-opacity="0.4"/></g>
<g filter="url(#b6)"><rect x="372" y="165" width="26" height="105" fill="#fff" fill-opacity="0.4"/></g>
<g filter="url(#b4)"><rect x="376" y="198" width="15" height="72" fill="#fff"/></g>
<g filter="url(#b3)"><rect x="378" y="214" width="120" height="55" fill="#fff"/></g>
<g filter="url(#b1)"><path d="M380.5,143.3 L405,143.3 L392,150 L380.5,155.5 Z" fill="#fff"/></g>
<path d="M380.5,143.3 L403,143.3 L391,149.5 L380.5,154.5 Z" fill="#fff"/>
<rect x="380.5" y="143.3" width="115" height="1.5" fill="#fff" fill-opacity="0.7"/>
</g>
<rect x="493.5" y="228" width="2" height="36" fill="#000" fill-opacity="0.6"/>
<rect x="380.5" y="158" width="1.8" height="45" fill="#000"/>
</mask><mask id="md1" maskUnits="userSpaceOnUse" x="26.4" y="332" width="90.6" height="86.5">
<g filter="url(#thr1)">
<g filter="url(#b2)"><path d="M62,370 Q74,358 87,368 L84,395 L82,420 L64,420 L62,395 Z" fill="#fff" fill-opacity="0.42"/></g>
<g filter="url(#b3)"><path d="M64,372 Q75,362 85,370 L82,392 L70,400 L66,392 Z" fill="#fff" fill-opacity="0.4"/></g>
<g filter="url(#b2)"><ellipse cx="77" cy="377" rx="7" ry="14" fill="#fff"/></g>
</g></mask><mask id="md2" maskUnits="userSpaceOnUse" x="25.9" y="421.8" width="91.1" height="86.8">
<g filter="url(#thr2)">
<g filter="url(#b2)"><path d="M65,471 Q74,459 83,471 L85,490 L85,512 L59,512 L59,490 Z" fill="#fff" fill-opacity="0.5"/></g>
<g filter="url(#b1)"><path d="M67,474 Q74,465 81.5,474 L83.5,490 L83.5,510 L61,510 L61.5,490 Z" fill="#fff"/></g>
</g></mask></defs>
<g filter="url(#soft)"><g clip-path="url(#cc1)"><g mask="url(#mc1)">
<rect x="381" y="14" width="115" height="122" fill="#5a64cc"/>
<g filter="url(#b6)">
<path d="M386,112 L410,106 L430,102 L448,92 L460,74 L480,66 L496,66 L496,104 L470,114 L450,125 L440,137 L384,137 Z" fill="#1a3ef0"/>
</g>
<g filter="url(#b6)">
<ellipse cx="464" cy="92" rx="18" ry="13" fill="#2466fa"/>
</g>
<g filter="url(#b3)">
<ellipse cx="396" cy="122" rx="16" ry="15" fill="#1080fa"/>
<ellipse cx="421" cy="121" rx="25" ry="12.5" fill="#0aa8f8"/>
</g>
<g filter="url(#b2)">
<ellipse cx="419" cy="122" rx="21" ry="10" fill="#00e4f8"/>
<ellipse cx="414" cy="123.5" rx="12" ry="6" fill="#18f080"/>
<ellipse cx="394" cy="122" rx="13" ry="16" fill="#10e0e0"/>
<ellipse cx="391" cy="125" rx="9.5" ry="12.5" fill="#40f040"/>
</g>
<g filter="url(#b1)">
<ellipse cx="389" cy="128.5" rx="6.5" ry="8" fill="#e8f000"/>
<ellipse cx="388.5" cy="130.5" rx="4.5" ry="5" fill="#f0a000"/>
<ellipse cx="388" cy="131.5" rx="2.8" ry="3" fill="#e83010"/>
</g>
<g filter="url(#b1)">
<path d="M381,14 L400,14 L388,20 L381,22.5 Z" fill="#1428c8"/>
<path d="M381,14 L396,14 L386,18.5 L381,20 Z" fill="#10d8e0"/>
<path d="M381,14 L392,14 L385,17.2 L381,18.2 Z" fill="#40f050"/>
<ellipse cx="385" cy="15.4" rx="3.2" ry="1.5" fill="#c8f020"/>
</g>
<rect x="381" y="14" width="115" height="1.5" fill="#101880"/>
</g></g></g>
<g filter="url(#soft)"><g clip-path="url(#cc2)"><g mask="url(#mc2)">
<rect x="380.5" y="143.3" width="115" height="121.7" fill="#5a64cc"/>
<g filter="url(#b6)">
<rect x="374" y="175" width="18" height="95" fill="#1a40f0"/>
<rect x="378" y="212" width="120" height="58" fill="#1a40f2"/>
</g>
<g filter="url(#b3)">
<ellipse cx="450" cy="243" rx="46" ry="19" fill="#1070fa"/>
<ellipse cx="385" cy="244" rx="8.5" ry="24" fill="#10b8f4"/>
</g>
<g filter="url(#b3)">
<ellipse cx="452" cy="245" rx="42" ry="14.5" fill="#00dcf4"/>
<ellipse cx="456" cy="246" rx="35" ry="10.5" fill="#30f050"/>
<ellipse cx="384" cy="252" rx="5.5" ry="15" fill="#40f040"/>
</g>
<g filter="url(#b2)">
<ellipse cx="460" cy="246" rx="24" ry="8" fill="#a8f010"/>
<ellipse cx="463" cy="246.5" rx="14" ry="5" fill="#f0e000"/>
<ellipse cx="464" cy="246.8" rx="6" ry="2.8" fill="#f0a800"/>
<ellipse cx="383" cy="259" rx="3.5" ry="8" fill="#d0f010"/>
</g>
<g filter="url(#b1)">
<path d="M380.5,143.3 L405,143.3 L392,150 L380.5,155.5 Z" fill="#1428c8"/>
<path d="M380.5,143.3 L398,143.3 L388,148.5 L380.5,152 Z" fill="#10d8e8"/>
<path d="M380.5,143.3 L393,143.3 L385,147.5 L380.5,149.5 Z" fill="#40f048"/>
<ellipse cx="383.5" cy="145.2" rx="3" ry="1.8" fill="#d8f010"/>
</g>
<rect x="380.5" y="143.3" width="115" height="1.5" fill="#101880"/>
</g></g></g>
<rect x="381" y="14" width="115" height="122" fill="none" stroke="#111" stroke-width="1.6"/>
<rect x="380.5" y="143.3" width="115" height="121.7" fill="none" stroke="#111" stroke-width="1.6"/>
<ellipse cx="424.6" cy="122.2" rx="23.5" ry="12.3" fill="none" stroke="#d81c2c" stroke-width="2.1"/>
<ellipse cx="448.5" cy="242" rx="51.8" ry="25.3" fill="none" stroke="#d81c2c" stroke-width="2.1"/>
<text x="13.80" y="306.50" font-size="12.2" font-weight="bold" text-anchor="start" fill="#000" stroke="#000" stroke-width="0.35">D</text>
<line x1="22.30" y1="340.86" x2="22.30" y2="514.00" stroke="#000" stroke-width="1.9" />
<path d="M22.30,337.20 L25.50,343.30 L22.30,341.47 L19.10,343.30 Z" fill="#000" stroke="#000" stroke-width="0.4" stroke-linejoin="round"/>
<line x1="21.40" y1="514.00" x2="107.00" y2="514.00" stroke="#000" stroke-width="1.9" />
<path d="M110.60,514.00 L104.60,517.10 L106.40,514.00 L104.60,510.90 Z" fill="#000" stroke="#000" stroke-width="0.4" stroke-linejoin="round"/>
<line x1="116.00" y1="515.00" x2="197.40" y2="515.00" stroke="#000" stroke-width="1.9" />
<path d="M201.00,515.00 L195.00,518.10 L196.80,515.00 L195.00,511.90 Z" fill="#000" stroke="#000" stroke-width="0.4" stroke-linejoin="round"/>
<text x="21.60" y="413.20" font-size="7.9" font-weight="bold" text-anchor="middle" fill="#000" textLength="24.5" lengthAdjust="spacingAndGlyphs" transform="rotate(-90 21.60 413.20)" >CD127</text>
<text x="65.30" y="527.90" font-size="8.4" font-weight="bold" text-anchor="middle" fill="#000" textLength="15.9" lengthAdjust="spacingAndGlyphs" >CD8</text>
<text x="142.30" y="530.50" font-size="8.2" font-weight="bold" text-anchor="middle" fill="#000" textLength="40.4" lengthAdjust="spacingAndGlyphs" >Histogram</text>
<g filter="url(#soft)"><g clip-path="url(#cd1)"><g mask="url(#md1)">
<rect x="26.4" y="332" width="90.6" height="86.5" fill="#4a5ed8"/>
<g filter="url(#b2)">
<ellipse cx="77" cy="378" rx="7.5" ry="15" fill="#1a84f4"/>
</g>
<g filter="url(#b1)">
<ellipse cx="77" cy="378" rx="5.5" ry="12.5" fill="#10d0e0"/>
<ellipse cx="77" cy="376" rx="4" ry="9.5" fill="#48f048"/>
<ellipse cx="77" cy="373" rx="2.4" ry="4" fill="#c8f020"/>
</g>
</g></g></g>
<g filter="url(#soft)"><g clip-path="url(#cd2)"><g mask="url(#md2)">
<rect x="25.9" y="421.8" width="91.1" height="86.8" fill="#1634f0"/>
<g filter="url(#b1)">
<ellipse cx="74" cy="493" rx="9.5" ry="17" fill="#1060f8"/>
<ellipse cx="74" cy="492.5" rx="8" ry="15" fill="#00c8f4"/>
<ellipse cx="74" cy="493" rx="6.2" ry="10.5" fill="#40f040"/>
<ellipse cx="74" cy="493.5" rx="3.6" ry="6" fill="#f0e800"/>
<ellipse cx="74" cy="493.5" rx="2.2" ry="3.8" fill="#f03810"/>
</g>
</g></g></g>
<rect x="26.4" y="332" width="90.6" height="86.5" fill="none" stroke="#111" stroke-width="1.5"/>
<rect x="25.9" y="421.8" width="91.1" height="86.8" fill="none" stroke="#111" stroke-width="1.5"/>
<text x="40.90" y="343.20" font-size="8.2" font-weight="bold" text-anchor="start" fill="#000" textLength="70.9" lengthAdjust="spacingAndGlyphs" >R.1 Pre-transplant</text>
<text x="88.90" y="433.30" font-size="8.2" font-weight="bold" text-anchor="start" fill="#000" textLength="20.6" lengthAdjust="spacingAndGlyphs" >Day 7</text>
<rect x="121" y="331" width="87.4" height="88" fill="none" stroke="#777" stroke-width="1"/>
<rect x="120.6" y="423.1" width="86.1" height="86.3" fill="none" stroke="#777" stroke-width="1"/>
<line x1="121.30" y1="331.00" x2="121.30" y2="419.00" stroke="#666" stroke-width="1.6" />
<line x1="121.00" y1="423.10" x2="121.00" y2="509.40" stroke="#666" stroke-width="1.6" />
<polyline points="121.6,412.5 123.1,412.5 124.3,411.2 125.6,412 127,410.8 128.1,411.4 129.2,412.8 130.2,413.4 131.3,411.6 132.4,412.2 133.6,413.2 134.9,413.1 136.5,412.4 138.3,411.4 139.5,411.8 140.8,410 142,409.6 143.4,407.5 144.6,406.2 145.9,403.8 147,402.6 148.1,399 149.1,398.2 150.1,394.8 150.9,391 151.8,385.5 152.6,383.5 153.5,378.7 154.4,378.2 155.5,376.2 156.5,371.4 157.2,372.4 157.7,370.3 158.8,366.2 159.9,364.4 160.3,367.7 160.8,361.5 161.6,355 162.4,354.6 163.3,351.7 163.8,348.5 164.5,344.9 165.3,343.2 166.2,338.1 166.8,337.8 167.4,336.1 168.4,340.7 169.2,341.8 170.1,346.6 171,354 171.8,365.2 172.7,377 173.5,387.2 174.4,398 175.2,407.5 176.2,413 177.2,416.8 178.4,418 179.7,418.5 208,418.5" fill="none" stroke="#333" stroke-width="0.9" stroke-linejoin="round"/>
<polyline points="121.4,505 121.6,499.5 123.1,491 125.6,475.8 128.1,457.2 130.2,440.3 131.5,435.2 132.9,427.6 134.1,426.4 135.2,427.1 136.6,435.2 138.3,448.7 140,464 141.7,475.8 144.2,487.6 147.6,497.8 151.8,504.5 156.9,507.9 162,508.8 206.5,508.8" fill="none" stroke="#333" stroke-width="0.9" stroke-linejoin="round"/>
<text x="227.40" y="420.90" font-size="8.2" font-weight="bold" text-anchor="middle" fill="#000" textLength="238.4" lengthAdjust="spacingAndGlyphs" transform="rotate(-90 227.40 420.90)" >Percent of CD127+/CD8+&#160; T cells Compared to Pre-transplant</text>
<line x1="238.70" y1="308.80" x2="238.70" y2="533.00" stroke="#000" stroke-width="1.9" />
<path d="M238.70,305.20 L241.90,311.20 L238.70,309.40 L235.50,311.20 Z" fill="#000" stroke="#000" stroke-width="0.4" stroke-linejoin="round"/>
<line x1="233.50" y1="543.00" x2="364.60" y2="543.00" stroke="#000" stroke-width="1.9" />
<path d="M368.20,543.00 L362.20,546.20 L364.00,543.00 L362.20,539.80 Z" fill="#000" stroke="#000" stroke-width="0.4" stroke-linejoin="round"/>
<text x="303.00" y="553.60" font-size="8.2" font-weight="bold" text-anchor="middle" fill="#000" textLength="73.4" lengthAdjust="spacingAndGlyphs" >Days Post-transplant</text>
<line x1="265.50" y1="301.50" x2="265.50" y2="368.90" stroke="#000" stroke-width="1.2" />
<line x1="244.20" y1="368.90" x2="346.90" y2="368.90" stroke="#000" stroke-width="1.2" />
<line x1="264.30" y1="368.90" x2="265.50" y2="368.90" stroke="#000" stroke-width="0.8" />
<line x1="264.30" y1="357.75" x2="265.50" y2="357.75" stroke="#000" stroke-width="0.8" />
<line x1="264.30" y1="346.60" x2="265.50" y2="346.60" stroke="#000" stroke-width="0.8" />
<line x1="264.30" y1="335.45" x2="265.50" y2="335.45" stroke="#000" stroke-width="0.8" />
<line x1="264.30" y1="324.30" x2="265.50" y2="324.30" stroke="#000" stroke-width="0.8" />
<line x1="264.30" y1="313.15" x2="265.50" y2="313.15" stroke="#000" stroke-width="0.8" />
<line x1="264.30" y1="302.00" x2="265.50" y2="302.00" stroke="#000" stroke-width="0.8" />
<text x="260.80" y="370.56" font-size="4.6" font-weight="bold" text-anchor="end" fill="#000" >0</text>
<text x="260.80" y="359.41" font-size="4.6" font-weight="bold" text-anchor="end" fill="#000" >20</text>
<text x="260.80" y="348.26" font-size="4.6" font-weight="bold" text-anchor="end" fill="#000" >40</text>
<text x="260.80" y="337.11" font-size="4.6" font-weight="bold" text-anchor="end" fill="#000" >60</text>
<text x="260.80" y="325.96" font-size="4.6" font-weight="bold" text-anchor="end" fill="#000" >80</text>
<text x="260.80" y="314.81" font-size="4.6" font-weight="bold" text-anchor="end" fill="#000" >100</text>
<text x="260.80" y="303.66" font-size="4.6" font-weight="bold" text-anchor="end" fill="#000" >120</text>
<line x1="245.00" y1="368.90" x2="245.00" y2="370.10" stroke="#000" stroke-width="0.8" />
<line x1="265.50" y1="368.90" x2="265.50" y2="370.10" stroke="#000" stroke-width="0.8" />
<line x1="286.00" y1="368.90" x2="286.00" y2="370.10" stroke="#000" stroke-width="0.8" />
<line x1="306.50" y1="368.90" x2="306.50" y2="370.10" stroke="#000" stroke-width="0.8" />
<line x1="327.00" y1="368.90" x2="327.00" y2="370.10" stroke="#000" stroke-width="0.8" />
<line x1="347.50" y1="368.90" x2="347.50" y2="370.10" stroke="#000" stroke-width="0.8" />
<text x="245.00" y="377.56" font-size="4.6" font-weight="bold" text-anchor="middle" fill="#000" >-2</text>
<text x="265.50" y="377.56" font-size="4.6" font-weight="bold" text-anchor="middle" fill="#000" >0</text>
<text x="286.00" y="377.56" font-size="4.6" font-weight="bold" text-anchor="middle" fill="#000" >2</text>
<text x="306.50" y="377.56" font-size="4.6" font-weight="bold" text-anchor="middle" fill="#000" >4</text>
<text x="327.00" y="377.56" font-size="4.6" font-weight="bold" text-anchor="middle" fill="#000" >6</text>
<text x="347.50" y="377.56" font-size="4.6" font-weight="bold" text-anchor="middle" fill="#000" >8</text>
<text x="272.60" y="307.60" font-size="9.2" font-weight="bold" text-anchor="start" fill="#000" textLength="14.4" lengthAdjust="spacingAndGlyphs" >R.1</text>
<polyline points="245.00,313.15 265.50,315.94 296.25,345.49 337.25,360.54" fill="none" stroke="#111" stroke-width="1.25" stroke-linejoin="round" />
<circle cx="245.00" cy="313.15" r="1.3" fill="#111"/>
<circle cx="265.50" cy="315.94" r="1.3" fill="#111"/>
<circle cx="296.25" cy="345.49" r="1.3" fill="#111"/>
<circle cx="337.25" cy="360.54" r="1.3" fill="#111"/>
<line x1="266.30" y1="382.40" x2="266.30" y2="450.80" stroke="#000" stroke-width="1.2" />
<line x1="244.20" y1="450.80" x2="353.30" y2="450.80" stroke="#000" stroke-width="1.2" />
<line x1="265.10" y1="450.80" x2="266.30" y2="450.80" stroke="#000" stroke-width="0.8" />
<line x1="265.10" y1="439.48" x2="266.30" y2="439.48" stroke="#000" stroke-width="0.8" />
<line x1="265.10" y1="428.17" x2="266.30" y2="428.17" stroke="#000" stroke-width="0.8" />
<line x1="265.10" y1="416.85" x2="266.30" y2="416.85" stroke="#000" stroke-width="0.8" />
<line x1="265.10" y1="405.53" x2="266.30" y2="405.53" stroke="#000" stroke-width="0.8" />
<line x1="265.10" y1="394.22" x2="266.30" y2="394.22" stroke="#000" stroke-width="0.8" />
<line x1="265.10" y1="382.90" x2="266.30" y2="382.90" stroke="#000" stroke-width="0.8" />
<text x="261.60" y="452.46" font-size="4.6" font-weight="bold" text-anchor="end" fill="#000" >0</text>
<text x="261.60" y="441.14" font-size="4.6" font-weight="bold" text-anchor="end" fill="#000" >20</text>
<text x="261.60" y="429.82" font-size="4.6" font-weight="bold" text-anchor="end" fill="#000" >40</text>
<text x="261.60" y="418.51" font-size="4.6" font-weight="bold" text-anchor="end" fill="#000" >60</text>
<text x="261.60" y="407.19" font-size="4.6" font-weight="bold" text-anchor="end" fill="#000" >80</text>
<text x="261.60" y="395.87" font-size="4.6" font-weight="bold" text-anchor="end" fill="#000" >100</text>
<text x="261.60" y="384.56" font-size="4.6" font-weight="bold" text-anchor="end" fill="#000" >120</text>
<line x1="244.76" y1="450.80" x2="244.76" y2="452.00" stroke="#000" stroke-width="0.8" />
<line x1="266.30" y1="450.80" x2="266.30" y2="452.00" stroke="#000" stroke-width="0.8" />
<line x1="287.84" y1="450.80" x2="287.84" y2="452.00" stroke="#000" stroke-width="0.8" />
<line x1="309.38" y1="450.80" x2="309.38" y2="452.00" stroke="#000" stroke-width="0.8" />
<line x1="330.92" y1="450.80" x2="330.92" y2="452.00" stroke="#000" stroke-width="0.8" />
<line x1="352.46" y1="450.80" x2="352.46" y2="452.00" stroke="#000" stroke-width="0.8" />
<text x="244.76" y="459.66" font-size="4.6" font-weight="bold" text-anchor="middle" fill="#000" >-2</text>
<text x="266.30" y="459.66" font-size="4.6" font-weight="bold" text-anchor="middle" fill="#000" >0</text>
<text x="287.84" y="459.66" font-size="4.6" font-weight="bold" text-anchor="middle" fill="#000" >2</text>
<text x="309.38" y="459.66" font-size="4.6" font-weight="bold" text-anchor="middle" fill="#000" >4</text>
<text x="330.92" y="459.66" font-size="4.6" font-weight="bold" text-anchor="middle" fill="#000" >6</text>
<text x="352.46" y="459.66" font-size="4.6" font-weight="bold" text-anchor="middle" fill="#000" >8</text>
<text x="271.20" y="390.80" font-size="9.2" font-weight="bold" text-anchor="start" fill="#000" textLength="14.8" lengthAdjust="spacingAndGlyphs" >R.2</text>
<polyline points="244.76,394.22 266.30,398.18 309.38,415.72 330.92,444.01" fill="none" stroke="#111" stroke-width="1.25" stroke-linejoin="round" />
<circle cx="244.76" cy="394.22" r="1.3" fill="#111"/>
<circle cx="266.30" cy="398.18" r="1.3" fill="#111"/>
<circle cx="309.38" cy="415.72" r="1.3" fill="#111"/>
<circle cx="330.92" cy="444.01" r="1.3" fill="#111"/>
<line x1="263.10" y1="462.20" x2="263.10" y2="530.20" stroke="#000" stroke-width="1.2" />
<line x1="245.60" y1="530.20" x2="350.60" y2="530.20" stroke="#000" stroke-width="1.2" />
<line x1="261.90" y1="530.20" x2="263.10" y2="530.20" stroke="#000" stroke-width="0.8" />
<line x1="261.90" y1="518.95" x2="263.10" y2="518.95" stroke="#000" stroke-width="0.8" />
<line x1="261.90" y1="507.70" x2="263.10" y2="507.70" stroke="#000" stroke-width="0.8" />
<line x1="261.90" y1="496.45" x2="263.10" y2="496.45" stroke="#000" stroke-width="0.8" />
<line x1="261.90" y1="485.20" x2="263.10" y2="485.20" stroke="#000" stroke-width="0.8" />
<line x1="261.90" y1="473.95" x2="263.10" y2="473.95" stroke="#000" stroke-width="0.8" />
<line x1="261.90" y1="462.70" x2="263.10" y2="462.70" stroke="#000" stroke-width="0.8" />
<text x="258.50" y="531.86" font-size="4.6" font-weight="bold" text-anchor="end" fill="#000" >0</text>
<text x="258.50" y="520.61" font-size="4.6" font-weight="bold" text-anchor="end" fill="#000" >20</text>
<text x="258.50" y="509.36" font-size="4.6" font-weight="bold" text-anchor="end" fill="#000" >40</text>
<text x="258.50" y="498.11" font-size="4.6" font-weight="bold" text-anchor="end" fill="#000" >60</text>
<text x="258.50" y="486.86" font-size="4.6" font-weight="bold" text-anchor="end" fill="#000" >80</text>
<text x="258.50" y="475.61" font-size="4.6" font-weight="bold" text-anchor="end" fill="#000" >100</text>
<text x="258.50" y="464.36" font-size="4.6" font-weight="bold" text-anchor="end" fill="#000" >120</text>
<line x1="245.60" y1="530.20" x2="245.60" y2="531.40" stroke="#000" stroke-width="0.8" />
<line x1="263.10" y1="530.20" x2="263.10" y2="531.40" stroke="#000" stroke-width="0.8" />
<line x1="280.60" y1="530.20" x2="280.60" y2="531.40" stroke="#000" stroke-width="0.8" />
<line x1="298.10" y1="530.20" x2="298.10" y2="531.40" stroke="#000" stroke-width="0.8" />
<line x1="315.60" y1="530.20" x2="315.60" y2="531.40" stroke="#000" stroke-width="0.8" />
<line x1="333.10" y1="530.20" x2="333.10" y2="531.40" stroke="#000" stroke-width="0.8" />
<line x1="350.60" y1="530.20" x2="350.60" y2="531.40" stroke="#000" stroke-width="0.8" />
<text x="245.60" y="539.16" font-size="4.6" font-weight="bold" text-anchor="middle" fill="#000" >-5</text>
<text x="263.10" y="539.16" font-size="4.6" font-weight="bold" text-anchor="middle" fill="#000" >0</text>
<text x="280.60" y="539.16" font-size="4.6" font-weight="bold" text-anchor="middle" fill="#000" >5</text>
<text x="298.10" y="539.16" font-size="4.6" font-weight="bold" text-anchor="middle" fill="#000" >10</text>
<text x="315.60" y="539.16" font-size="4.6" font-weight="bold" text-anchor="middle" fill="#000" >15</text>
<text x="333.10" y="539.16" font-size="4.6" font-weight="bold" text-anchor="middle" fill="#000" >20</text>
<text x="350.60" y="539.16" font-size="4.6" font-weight="bold" text-anchor="middle" fill="#000" >25</text>
<text x="267.10" y="470.80" font-size="9.2" font-weight="bold" text-anchor="start" fill="#000" textLength="13.5" lengthAdjust="spacingAndGlyphs" >R.3</text>
<polyline points="257.85,475.64 263.10,466.07 266.60,489.70 280.60,473.95 287.60,505.45 294.60,506.01 305.10,512.76 319.10,511.92 329.60,513.33 340.10,529.36" fill="none" stroke="#111" stroke-width="1.25" stroke-linejoin="round" />
<circle cx="263.10" cy="466.07" r="1.3" fill="#111"/>
<circle cx="266.60" cy="489.70" r="1.3" fill="#111"/>
<circle cx="280.60" cy="473.95" r="1.3" fill="#111"/>
<circle cx="287.60" cy="505.45" r="1.3" fill="#111"/>
<circle cx="294.60" cy="506.01" r="1.3" fill="#111"/>
<circle cx="305.10" cy="512.76" r="1.3" fill="#111"/>
<circle cx="319.10" cy="511.92" r="1.3" fill="#111"/>
<circle cx="329.60" cy="513.33" r="1.3" fill="#111"/>
<circle cx="340.10" cy="529.36" r="1.3" fill="#111"/>
</g>
</svg>
</body></html>
